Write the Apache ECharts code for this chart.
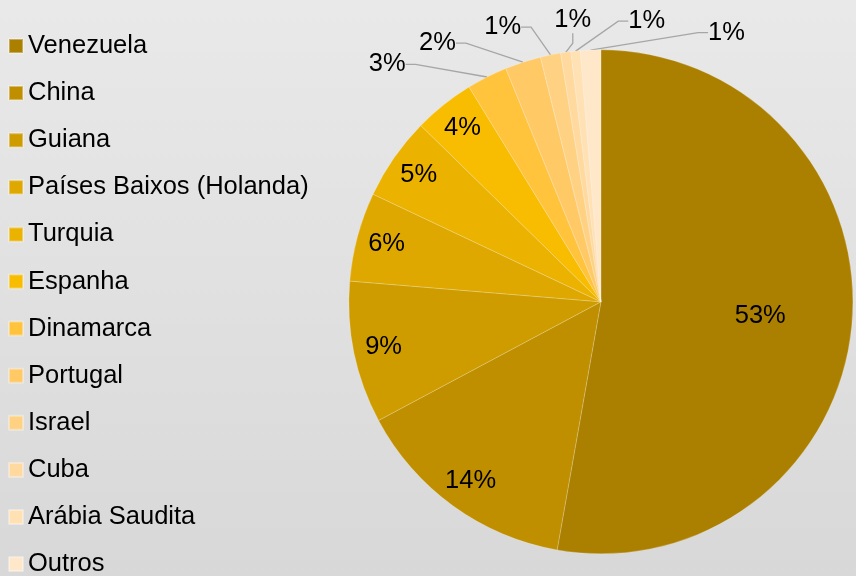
<!DOCTYPE html>
<html>
<head>
<meta charset="utf-8">
<style>
    html, body { margin: 0; padding: 0; }
    #chartBox { width: 856px; height: 576px; }
</style>
<script src="https://cdn.jsdelivr.net/npm/echarts@6/dist/echarts.min.js"></script>
</head>
<body>
<div id="chartBox"></div>
<script>
// 原产国分布（%）
var _names = ['Venezuela', 'China', 'Guiana', 'Países Baixos (Holanda)', 'Turquia', 'Espanha',
        'Dinamarca', 'Portugal', 'Israel', 'Cuba', 'Arábia Saudita', 'Outros'];
var _values = [52.7, 14.4, 9.1, 5.7, 5.3, 3.9, 2.6, 2.3, 1.3, 0.65, 0.6, 1.3];
var _colors = ['#ab7f00', '#bf8f00', '#cf9c00', '#dea800', '#ebb200', '#f8bc00',
        '#ffc33c', '#ffc966', '#ffd283', '#ffd99d', '#ffe1b4', '#ffe7c9'];

(function(){
    var _center = [0.702, 0.524],
        _radius = 0.875,
        _insideCount = 6,
        _fan = [-42, 25],   // 外侧标签扇形分布角度
        _font = '"Liberation Sans", Arial, sans-serif',
        _chart;

    //标签位置
    function layoutLabel(p){
        var w = _chart.getWidth(), h = _chart.getHeight(),
            cx = w * _center[0],
            cy = h * _center[1],
            r = Math.min(w, h) / 2 * _radius;
        if(p.dataIndex >= _insideCount){
            var n = _names.length - _insideCount,
                t = Math.pow((p.dataIndex - _insideCount) / (n - 1), 1.2),
                a = (_fan[0] + (_fan[1] - _fan[0]) * t) * Math.PI / 180,
                s = Math.sin(a),
                d = r * (1.12 + 0.33 * s * s);
            return {
                x: cx + d * s,
                y: cy - d * Math.cos(a),
                align: 'center',
                verticalAlign: 'middle'
            };
        }
        var lx = p.labelRect.x + p.labelRect.width / 2,
            ly = p.labelRect.y + p.labelRect.height / 2,
            k = p.dataIndex === 0 ? 1.24 : 1.72;
        return {
            x: cx + (lx - cx) * k,
            y: cy + (ly - cy) * k,
            align: 'center',
            verticalAlign: 'middle'
        };
    }

    function getParams(){
        return {
            backgroundColor: {
                type: 'linear', x: 0, y: 0, x2: 0, y2: 1,
                colorStops: [{offset: 0, color: '#e9e9e9'}, {offset: 1, color: '#d8d8d8'}]
            },
            color: _colors,
            legend: {
                orient: 'vertical',
                left: 8,
                top: 33,
                height: 560,
                padding: 0,
                icon: 'rect',
                itemWidth: 14,
                itemHeight: 14,
                itemGap: 21.1,
                textStyle: {
                    fontFamily: _font,
                    fontSize: 25.5,
                    color: '#000000'
                },
                data: _names
            },
            series: [{
                type: 'pie',
                center: [_center[0] * 100 + '%', _center[1] * 100 + '%'],
                radius: _radius * 100 + '%',
                startAngle: 90,
                clockwise: true,
                avoidLabelOverlap: false,
                itemStyle: {
                    borderColor: 'rgba(255,255,255,0.35)',
                    borderWidth: 0.6
                },
                label: {
                    fontFamily: _font,
                    fontSize: 25.5,
                    color: '#000000',
                    formatter: function(p){
                        return Math.round(p.percent) + '%';
                    }
                },
                labelLine: {
                    length: 14,
                    length2: 10,
                    lineStyle: {color: '#a6a6a6', width: 1.3}
                },
                labelLayout: layoutLabel,
                emphasis: {scale: false},
                data: _names.map(function(n, i){
                    var inside = i < _insideCount;
                    return {
                        name: n,
                        value: _values[i],
                        label: {position: inside ? 'inside' : 'outside'},
                        labelLine: {show: !inside}
                    };
                })
            }]
        };
    }

    _chart = echarts.init(document.getElementById('chartBox'));
    _chart.setOption(getParams());
})();
</script>
</body>
</html>
